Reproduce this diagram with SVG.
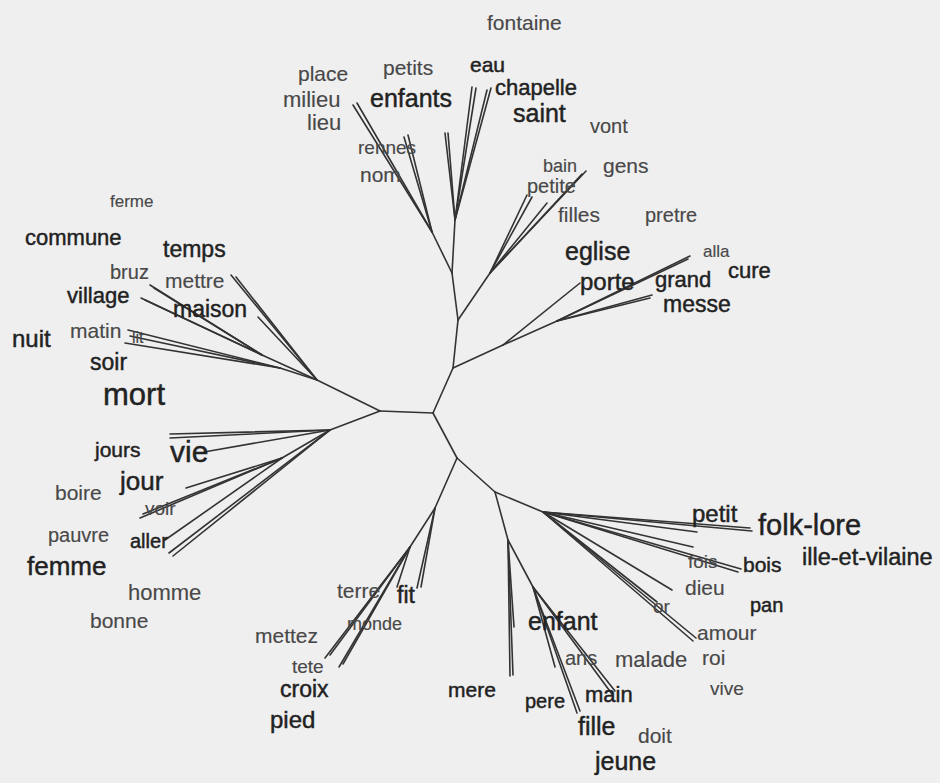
<svg xmlns="http://www.w3.org/2000/svg" width="940" height="783" viewBox="0 0 940 783">
<style>
text{font-family:"Liberation Sans",Arial,sans-serif;}
.d{fill:#222;stroke:#222;stroke-width:0.45;}
.l{fill:#484848;stroke:#484848;stroke-width:0.15;}
.e line{stroke:#333;stroke-width:1.6;stroke-linecap:round;}
</style>
<rect x="0" y="0" width="940" height="783" fill="#efefef"/>
<g id="connectors" class="e">
<line x1="433" y1="413" x2="380" y2="411"/>
<line x1="433" y1="413" x2="453" y2="368"/>
<line x1="433" y1="413" x2="457" y2="458"/>
<line x1="453" y1="368" x2="458" y2="320"/>
<line x1="453" y1="368" x2="503" y2="345"/>
<line x1="458" y1="320" x2="452" y2="273"/>
<line x1="458" y1="320" x2="490" y2="273"/>
<line x1="452" y1="273" x2="432" y2="232"/>
<line x1="452" y1="273" x2="455" y2="220"/>
<line x1="432" y1="232" x2="353" y2="105"/>
<line x1="432" y1="232" x2="357" y2="103"/>
<line x1="432" y1="232" x2="404" y2="137"/>
<line x1="432" y1="232" x2="408" y2="135"/>
<line x1="455" y1="220" x2="445" y2="133"/>
<line x1="455" y1="220" x2="448" y2="133"/>
<line x1="455" y1="220" x2="472" y2="87"/>
<line x1="455" y1="220" x2="476" y2="88"/>
<line x1="455" y1="220" x2="487" y2="90"/>
<line x1="455" y1="220" x2="491" y2="88"/>
<line x1="490" y1="273" x2="527" y2="195"/>
<line x1="490" y1="273" x2="532" y2="197"/>
<line x1="490" y1="273" x2="547" y2="203"/>
<line x1="490" y1="273" x2="582" y2="174"/>
<line x1="490" y1="273" x2="586" y2="171"/>
<line x1="503" y1="345" x2="580" y2="283"/>
<line x1="503" y1="345" x2="557" y2="321"/>
<line x1="557" y1="321" x2="688" y2="259"/>
<line x1="557" y1="321" x2="690" y2="256"/>
<line x1="557" y1="321" x2="650" y2="298"/>
<line x1="557" y1="321" x2="652" y2="295"/>
<line x1="380" y1="411" x2="317" y2="380"/>
<line x1="317" y1="380" x2="231" y2="275"/>
<line x1="317" y1="380" x2="236" y2="277"/>
<line x1="317" y1="380" x2="258" y2="317"/>
<line x1="317" y1="380" x2="262" y2="355"/>
<line x1="262" y1="355" x2="150" y2="285"/>
<line x1="262" y1="355" x2="154" y2="288"/>
<line x1="262" y1="355" x2="141" y2="298"/>
<line x1="262" y1="355" x2="145" y2="300"/>
<line x1="317" y1="380" x2="280" y2="368"/>
<line x1="280" y1="368" x2="128" y2="330"/>
<line x1="280" y1="368" x2="130" y2="336"/>
<line x1="280" y1="368" x2="125" y2="343"/>
<line x1="380" y1="411" x2="330" y2="430"/>
<line x1="330" y1="430" x2="170" y2="434"/>
<line x1="330" y1="430" x2="170" y2="438"/>
<line x1="330" y1="430" x2="204" y2="452"/>
<line x1="330" y1="430" x2="282" y2="458"/>
<line x1="282" y1="458" x2="186" y2="488"/>
<line x1="282" y1="458" x2="140" y2="518"/>
<line x1="282" y1="458" x2="143" y2="514"/>
<line x1="282" y1="458" x2="165" y2="540"/>
<line x1="330" y1="430" x2="169" y2="553"/>
<line x1="330" y1="430" x2="173" y2="556"/>
<line x1="457" y1="458" x2="435" y2="508"/>
<line x1="435" y1="508" x2="417" y2="588"/>
<line x1="435" y1="508" x2="421" y2="587"/>
<line x1="435" y1="508" x2="410" y2="547"/>
<line x1="410" y1="547" x2="397" y2="587"/>
<line x1="410" y1="547" x2="325" y2="658"/>
<line x1="410" y1="547" x2="330" y2="655"/>
<line x1="410" y1="547" x2="339" y2="667"/>
<line x1="410" y1="547" x2="343" y2="664"/>
<line x1="457" y1="458" x2="495" y2="492"/>
<line x1="495" y1="492" x2="543" y2="512"/>
<line x1="543" y1="512" x2="697" y2="532"/>
<line x1="543" y1="512" x2="750" y2="528"/>
<line x1="543" y1="512" x2="752" y2="531"/>
<line x1="543" y1="512" x2="693" y2="547"/>
<line x1="543" y1="512" x2="738" y2="572"/>
<line x1="543" y1="512" x2="741" y2="569"/>
<line x1="543" y1="512" x2="672" y2="590"/>
<line x1="543" y1="512" x2="657" y2="602"/>
<line x1="543" y1="512" x2="693" y2="641"/>
<line x1="543" y1="512" x2="696" y2="638"/>
<line x1="495" y1="492" x2="508" y2="540"/>
<line x1="508" y1="540" x2="510" y2="676"/>
<line x1="508" y1="540" x2="513" y2="675"/>
<line x1="508" y1="540" x2="514" y2="627"/>
<line x1="508" y1="540" x2="533" y2="587"/>
<line x1="533" y1="587" x2="555" y2="667"/>
<line x1="533" y1="587" x2="577" y2="713"/>
<line x1="533" y1="587" x2="580" y2="711"/>
<line x1="533" y1="587" x2="612" y2="694"/>
<line x1="533" y1="587" x2="615" y2="691"/>
</g>
<g id="n-fontaine"><text class="l" x="487" y="30" font-size="21">fontaine</text></g>
<g id="n-place"><text class="l" x="298" y="81" font-size="21">place</text></g>
<g id="n-petits"><text class="l" x="383" y="75" font-size="21">petits</text></g>
<g id="n-eau"><text class="d" x="470" y="72" font-size="21">eau</text></g>
<g id="n-chapelle"><text class="d" x="495" y="95" font-size="22">chapelle</text></g>
<g id="n-milieu"><text class="l" x="283" y="107" font-size="22">milieu</text></g>
<g id="n-enfants"><text class="d" x="370" y="107" font-size="25">enfants</text></g>
<g id="n-saint"><text class="d" x="513" y="122" font-size="25">saint</text></g>
<g id="n-lieu"><text class="l" x="307" y="130" font-size="22">lieu</text></g>
<g id="n-vont"><text class="l" x="590" y="133" font-size="20">vont</text></g>
<g id="n-rennes"><text class="l" x="358" y="154" font-size="19">rennes</text></g>
<g id="n-nom"><text class="l" x="360" y="182" font-size="21">nom</text></g>
<g id="n-bain"><text class="l" x="543" y="172" font-size="18">bain</text></g>
<g id="n-gens"><text class="l" x="603" y="173" font-size="21">gens</text></g>
<g id="n-petite"><text class="l" x="527" y="193" font-size="20">petite</text></g>
<g id="n-filles"><text class="l" x="558" y="222" font-size="21">filles</text></g>
<g id="n-pretre"><text class="l" x="645" y="222" font-size="20">pretre</text></g>
<g id="n-eglise"><text class="d" x="565" y="260" font-size="25">eglise</text></g>
<g id="n-alla"><text class="l" x="703" y="257" font-size="17">alla</text></g>
<g id="n-cure"><text class="d" x="728" y="278" font-size="22">cure</text></g>
<g id="n-porte"><text class="d" x="580" y="290" font-size="24">porte</text></g>
<g id="n-grand"><text class="d" x="655" y="287" font-size="22">grand</text></g>
<g id="n-messe"><text class="d" x="663" y="312" font-size="23">messe</text></g>
<g id="n-ferme"><text class="l" x="110" y="207" font-size="17">ferme</text></g>
<g id="n-commune"><text class="d" x="25" y="245" font-size="22">commune</text></g>
<g id="n-temps"><text class="d" x="163" y="257" font-size="23">temps</text></g>
<g id="n-bruz"><text class="l" x="110" y="279" font-size="20">bruz</text></g>
<g id="n-mettre"><text class="l" x="165" y="288" font-size="21">mettre</text></g>
<g id="n-village"><text class="d" x="67" y="303" font-size="22">village</text></g>
<g id="n-maison"><text class="d" x="173" y="317" font-size="23">maison</text></g>
<g id="n-matin"><text class="l" x="70" y="338" font-size="21">matin</text></g>
<g id="n-lit"><text class="l" x="132" y="343" font-size="16">lit</text></g>
<g id="n-nuit"><text class="d" x="12" y="347" font-size="24">nuit</text></g>
<g id="n-soir"><text class="d" x="90" y="370" font-size="23">soir</text></g>
<g id="n-mort"><text class="d" x="103" y="405" font-size="31">mort</text></g>
<g id="n-jours"><text class="d" x="95" y="457" font-size="21">jours</text></g>
<g id="n-vie"><text class="d" x="170" y="462" font-size="30">vie</text></g>
<g id="n-jour"><text class="d" x="120" y="490" font-size="26">jour</text></g>
<g id="n-boire"><text class="l" x="55" y="500" font-size="21">boire</text></g>
<g id="n-voir"><text class="l" x="145" y="515" font-size="19">voir</text></g>
<g id="n-pauvre"><text class="l" x="48" y="542" font-size="20">pauvre</text></g>
<g id="n-aller"><text class="d" x="130" y="548" font-size="20">aller</text></g>
<g id="n-femme"><text class="d" x="27" y="575" font-size="26">femme</text></g>
<g id="n-homme"><text class="l" x="128" y="600" font-size="22">homme</text></g>
<g id="n-bonne"><text class="l" x="90" y="628" font-size="21">bonne</text></g>
<g id="n-terre"><text class="l" x="337" y="598" font-size="21">terre</text></g>
<g id="n-fit"><text class="d" x="397" y="603" font-size="23">fit</text></g>
<g id="n-monde"><text class="l" x="347" y="630" font-size="18">monde</text></g>
<g id="n-mettez"><text class="l" x="255" y="643" font-size="21">mettez</text></g>
<g id="n-tete"><text class="l" x="292" y="673" font-size="19">tete</text></g>
<g id="n-croix"><text class="d" x="280" y="697" font-size="23">croix</text></g>
<g id="n-pied"><text class="d" x="270" y="728" font-size="24">pied</text></g>
<g id="n-petit"><text class="d" x="692" y="522" font-size="24">petit</text></g>
<g id="n-folk-lore"><text class="d" x="758" y="535" font-size="29">folk-lore</text></g>
<g id="n-ille-et-vilaine"><text class="d" x="802" y="565" font-size="23.5">ille-et-vilaine</text></g>
<g id="n-fois"><text class="l" x="688" y="568" font-size="19">fois</text></g>
<g id="n-bois"><text class="d" x="743" y="572" font-size="21">bois</text></g>
<g id="n-dieu"><text class="l" x="685" y="595" font-size="21">dieu</text></g>
<g id="n-pan"><text class="d" x="750" y="612" font-size="20">pan</text></g>
<g id="n-or"><text class="l" x="653" y="613" font-size="19">or</text></g>
<g id="n-amour"><text class="l" x="697" y="640" font-size="21">amour</text></g>
<g id="n-enfant"><text class="d" x="528" y="630" font-size="25">enfant</text></g>
<g id="n-ans"><text class="l" x="565" y="665" font-size="20">ans</text></g>
<g id="n-malade"><text class="l" x="615" y="667" font-size="22">malade</text></g>
<g id="n-roi"><text class="l" x="702" y="665" font-size="21">roi</text></g>
<g id="n-vive"><text class="l" x="710" y="695" font-size="19">vive</text></g>
<g id="n-mere"><text class="d" x="448" y="697" font-size="21">mere</text></g>
<g id="n-pere"><text class="d" x="525" y="708" font-size="20">pere</text></g>
<g id="n-main"><text class="d" x="585" y="702" font-size="22">main</text></g>
<g id="n-fille"><text class="d" x="578" y="735" font-size="25">fille</text></g>
<g id="n-doit"><text class="l" x="638" y="743" font-size="21">doit</text></g>
<g id="n-jeune"><text class="d" x="595" y="770" font-size="25">jeune</text></g>
</svg>
